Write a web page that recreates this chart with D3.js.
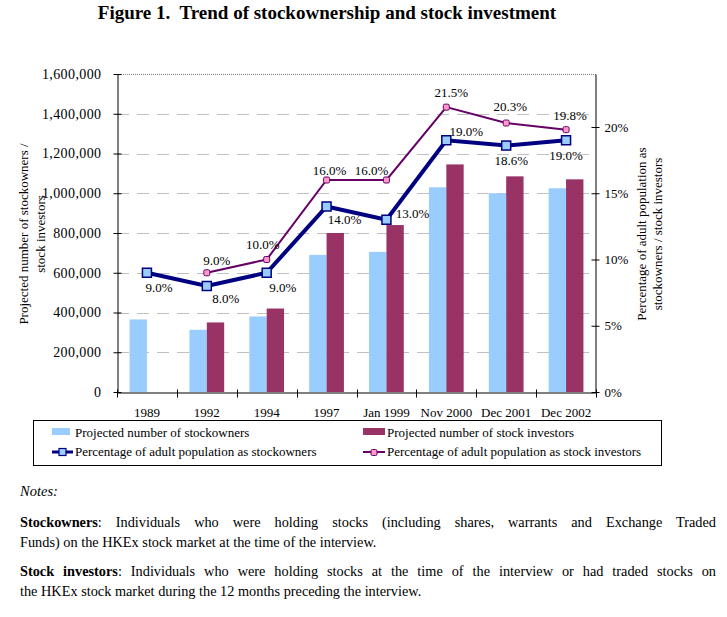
<!DOCTYPE html>
<html>
<head>
<meta charset="utf-8">
<script src="https://cdn.jsdelivr.net/npm/d3@7/dist/d3.min.js"></script>
<style>
  html, body { margin: 0; padding: 0; background: #fff; }
  svg { display: block; }
  svg text { font-family: "Liberation Serif", "Times New Roman", serif !important; fill: #000; }
</style>
</head>
<body>
<svg id="chart" width="727" height="617"></svg>
<script>
// ---------------- data ----------------
const categories = ["1989", "1992", "1994", "1997", "Jan 1999", "Nov 2000", "Dec 2001", "Dec 2002"];
const ownersCount = [365000, 313000, 380000, 690000, 705000, 1030000, 1000000, 1025000];
const investorsCount = [null, 350000, 420000, 800000, 840000, 1145000, 1085000, 1070000];
const ownersPct = [9.0, 8.0, 9.0, 14.0, 13.0, 19.0, 18.6, 19.0];
const investorsPct = [null, 9.0, 10.0, 16.0, 16.0, 21.5, 20.3, 19.8];
const leftTicks = [0, 200000, 400000, 600000, 800000, 1000000, 1200000, 1400000, 1600000];
const rightTicks = [0, 5, 10, 15, 20];

const titleText = "Figure 1.  Trend of stockownership and stock investment";
const leftTitle = ["Projected number of stockowners /", "stock investors"];
const rightTitle = ["Percentage of adult population as", "stockowners / stock investors"];
const legendLabels = [
  "Projected number of stockowners",
  "Projected number of stock investors",
  "Percentage of adult population as stockowners",
  "Percentage of adult population as stock investors"
];
const notesTitle = "Notes:";
const notes = [
  { term: "Stockowners", lines: [": Individuals who were holding stocks (including shares, warrants and Exchange Traded",
                                 "Funds) on the HKEx stock market at the time of the interview."] },
  { term: "Stock investors", lines: [": Individuals who were holding stocks at the time of the interview or had traded stocks on",
                                     "the HKEx stock market during the 12 months preceding the interview."] }
];

// ---------------- styles / layout ----------------
const FONT = "'Liberation Serif', 'Times New Roman', serif";
const ownerColor = "#99ccff", investorColor = "#993366";
const ownerLine = "#000080", investorLine = "#660066", investorMarker = "#ff99cc";
const plot = { left: 117, right: 596, top: 74, bottom: 392 };
// label offsets (dx, dy) relative to markers
const ownerLabelOff = [[12, 15], [19, 12], [16, 15], [18, 13], [26, -6], [20, -9], [5, 15], [0, 15]];
const investorLabelOff = [null, [10, -12], [-4, -15], [3, -10], [-15, -10], [5, -15], [4, -17], [4, -14]];

const svg = d3.select("#chart");

const x = d3.scaleBand().domain(categories).range([plot.left, plot.right]).padding(0);
const yL = d3.scaleLinear().domain([0, 1600000]).range([plot.bottom, plot.top]);
const yR = d3.scaleLinear().domain([0, 24]).range([plot.bottom, plot.top]);
const bw = x.bandwidth() * 0.29;
const cx = c => x(c) + x.bandwidth() / 2;

// title
svg.append("text")
  .attr("x", 327).attr("y", 19)
  .attr("text-anchor", "middle")
  .style("font-size", "19px").style("font-weight", "bold").style("white-space", "pre")
  .text(titleText);

// gridlines
svg.append("g").selectAll("line")
  .data(leftTicks.filter(t => t > 0 && t < 1600000))
  .join("line")
  .attr("x1", plot.left).attr("x2", plot.right)
  .attr("y1", d => Math.round(yL(d)) + 0.5).attr("y2", d => Math.round(yL(d)) + 0.5)
  .attr("stroke", "#c0c0c0").attr("stroke-width", 1).attr("stroke-dasharray", "12,8");

// top border (dotted)
svg.append("line")
  .attr("x1", plot.left).attr("x2", plot.right)
  .attr("y1", yL(1600000) + 0.5).attr("y2", yL(1600000) + 0.5)
  .attr("stroke", "#808080").attr("stroke-width", 1).attr("stroke-dasharray", "1,1");

// bars
const gBars = svg.append("g");
gBars.selectAll("rect.owner")
  .data(categories.map((c, i) => ({ c, v: ownersCount[i] })).filter(d => d.v != null))
  .join("rect").attr("class", "owner")
  .attr("x", d => cx(d.c) - bw).attr("width", bw)
  .attr("y", d => yL(d.v)).attr("height", d => yL(0) - yL(d.v))
  .attr("fill", ownerColor);
gBars.selectAll("rect.inv")
  .data(categories.map((c, i) => ({ c, v: investorsCount[i] })).filter(d => d.v != null))
  .join("rect").attr("class", "inv")
  .attr("x", d => cx(d.c)).attr("width", bw)
  .attr("y", d => yL(d.v)).attr("height", d => yL(0) - yL(d.v))
  .attr("fill", investorColor);

// left axis
const axL = svg.append("g").attr("transform", `translate(${plot.left + 0.5},0)`)
  .call(d3.axisLeft(yL).tickValues(leftTicks).tickFormat(d3.format(",")).tickSize(4).tickSizeOuter(0).tickPadding(12));
axL.attr("font-family", FONT);
axL.selectAll(".tick line").attr("x1", 4).attr("x2", -4);
axL.selectAll("text").style("font-size", "14px").style("letter-spacing", "0.4px");
axL.select(".domain").attr("stroke", "#000");

// right axis
const axR = svg.append("g").attr("transform", `translate(${plot.right - 0.5},0)`)
  .call(d3.axisRight(yR).tickValues(rightTicks).tickFormat(d => d + "%").tickSize(4).tickSizeOuter(0).tickPadding(5));
axR.attr("font-family", FONT);
axR.selectAll(".tick line").attr("x1", -4).attr("x2", 4);
axR.selectAll("text").style("font-size", "13px");

// bottom axis
const axB = svg.append("g").attr("transform", `translate(0,${plot.bottom + 0.5})`)
  .call(d3.axisBottom(x).tickSize(0).tickPadding(15));
axB.attr("font-family", FONT);
axB.selectAll("text").style("font-size", "13px");
axB.select(".domain").attr("stroke", "#000");
axB.selectAll("line.bt")
  .data(categories.map(c => x(c)).concat([x.range()[1]]))
  .join("line").attr("class", "bt")
  .attr("x1", d => Math.round(d) + 0.5).attr("x2", d => Math.round(d) + 0.5)
  .attr("y1", -3).attr("y2", 5).attr("stroke", "#000");

// lines
const ownerPts = categories.map((c, i) => ({ c, v: ownersPct[i], i }));
const invPts = categories.map((c, i) => ({ c, v: investorsPct[i], i }));
const lineGen = d3.line().defined(d => d.v != null).x(d => cx(d.c)).y(d => yR(d.v));

svg.append("path").datum(invPts).attr("d", lineGen)
  .attr("fill", "none").attr("stroke", investorLine).attr("stroke-width", 2);
svg.append("g").selectAll("rect")
  .data(invPts.filter(d => d.v != null)).join("rect")
  .attr("x", d => cx(d.c) - 3).attr("y", d => yR(d.v) - 3)
  .attr("width", 6).attr("height", 6).attr("rx", 1.5)
  .attr("fill", investorMarker).attr("stroke", investorLine).attr("stroke-width", 1);

svg.append("path").datum(ownerPts).attr("d", lineGen)
  .attr("fill", "none").attr("stroke", ownerLine).attr("stroke-width", 4);
svg.append("g").selectAll("rect")
  .data(ownerPts.filter(d => d.v != null)).join("rect")
  .attr("x", d => cx(d.c) - 4.5).attr("y", d => yR(d.v) - 4.5)
  .attr("width", 9).attr("height", 9)
  .attr("fill", ownerColor).attr("stroke", ownerLine).attr("stroke-width", 1.5);

// data labels
const fmtPct = d => d.toFixed(1) + "%";
svg.append("g").selectAll("text")
  .data(invPts.filter(d => d.v != null)).join("text")
  .attr("x", d => cx(d.c) + investorLabelOff[d.i][0])
  .attr("y", d => yR(d.v) + investorLabelOff[d.i][1])
  .attr("dy", "0.35em").attr("text-anchor", "middle").style("font-size", "13px")
  .text(d => fmtPct(d.v));
svg.append("g").selectAll("text")
  .data(ownerPts.filter(d => d.v != null)).join("text")
  .attr("x", d => cx(d.c) + ownerLabelOff[d.i][0])
  .attr("y", d => yR(d.v) + ownerLabelOff[d.i][1])
  .attr("dy", "0.35em").attr("text-anchor", "middle").style("font-size", "13px")
  .text(d => fmtPct(d.v));

// axis titles
leftTitle.forEach((t, i) => {
  svg.append("text").attr("transform", `translate(${28 + i * 17},234) rotate(-90)`)
    .attr("text-anchor", "middle").style("font-size", "13px").text(t);
});
rightTitle.forEach((t, i) => {
  svg.append("text").attr("transform", `translate(${646 + i * 16},234) rotate(-90)`)
    .attr("text-anchor", "middle").style("font-size", "13px").text(t);
});

// legend
const lg = svg.append("g");
lg.append("rect").attr("x", 33.5).attr("y", 420.5).attr("width", 628).attr("height", 45)
  .attr("fill", "#fff").attr("stroke", "#000");
const legCols = [52, 363];
// bar swatches
lg.append("rect").attr("x", legCols[0]).attr("y", 428).attr("width", 18).attr("height", 7).attr("fill", ownerColor);
lg.append("rect").attr("x", legCols[1]).attr("y", 428).attr("width", 22).attr("height", 7).attr("fill", investorColor);
// line swatches
lg.append("line").attr("x1", legCols[0]).attr("x2", legCols[0] + 21).attr("y1", 452).attr("y2", 452)
  .attr("stroke", ownerLine).attr("stroke-width", 3);
lg.append("rect").attr("x", legCols[0] + 7).attr("y", 448.5).attr("width", 7).attr("height", 7)
  .attr("fill", ownerColor).attr("stroke", ownerLine).attr("stroke-width", 1.2);
lg.append("line").attr("x1", legCols[1]).attr("x2", legCols[1] + 22).attr("y1", 452).attr("y2", 452)
  .attr("stroke", investorLine).attr("stroke-width", 2);
lg.append("rect").attr("x", legCols[1] + 8).attr("y", 449.5).attr("width", 6).attr("height", 6).attr("rx", 1.5)
  .attr("fill", investorMarker).attr("stroke", investorLine).attr("stroke-width", 1);
const legTextPos = [[75, 437], [387, 437], [75, 456], [387, 456]];
legendLabels.forEach((t, i) => {
  lg.append("text").attr("x", legTextPos[i][0]).attr("y", legTextPos[i][1]).style("font-size", "13px").text(t);
});

// notes
svg.append("text").attr("x", 20).attr("y", 496).style("font-size", "14.5px").style("font-style", "italic").text(notesTitle);
const noteY = [[527, 547], [576, 596]];
notes.forEach((n, pi) => {
  n.lines.forEach((ln, li) => {
    const t = svg.append("text").attr("x", 20).attr("y", noteY[pi][li]).style("font-size", "14.3px");
    if (li === 0) {
      t.append("tspan").style("font-weight", "bold").text(n.term);
      t.append("tspan").text(ln);
      const natural = t.node().getComputedTextLength();
      const full = n.term + ln;
      const spaces = (full.match(/ /g) || []).length;
      const target = 696;
      t.style("word-spacing", ((target - natural) / spaces) + "px");
    } else {
      t.text(ln);
    }
  });
});
</script>
</body>
</html>
